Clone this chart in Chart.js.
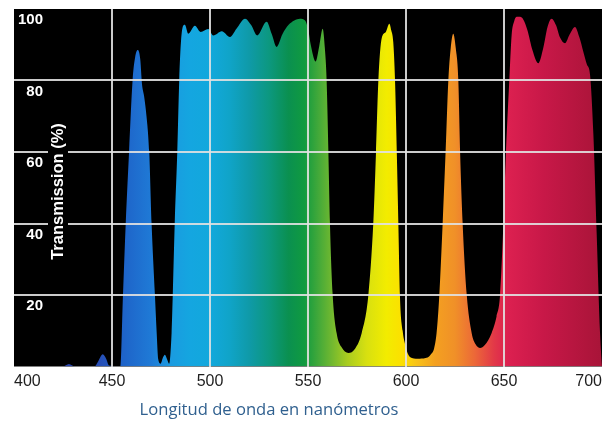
<!DOCTYPE html>
<html><head><meta charset="utf-8">
<style>html,body{margin:0;padding:0;background:#fff;}#wrap{width:608px;height:422px;}</style>
<script src="https://cdn.jsdelivr.net/npm/chart.js@4.4.1/dist/chart.umd.min.js"></script>
</head><body><div id="wrap"><canvas id="c" width="608" height="422"></canvas></div>
<script>
const wavelengths = [400,425,428,431,441,443,445.3,447,448.5,454.3,455.6,457,458.7,460.5,461.8,463.1,464.4,465.3,466.4,467.6,469,470.2,471.9,472.8,473.6,474.8,476,477,478,479.2,480.4,481,482,483.3,484.3,485.2,486.4,487.2,488.9,492.3,495.2,499.1,501.7,506,510.2,513.5,517.9,521,524.1,528.9,531.5,534,537,540,543,545.9,548.5,550.2,551.4,553.9,555.7,557.5,558.6,559.5,560.4,561.2,562.6,564.6,567,570.6,574,577.4,580.8,583.3,584.7,585.9,587.6,589.6,591.5,592.5,593.5,594.4,595.3,596.1,596.9,598.3,599.7,601,603,607,611,612.8,614.3,615.6,617,618.7,620.2,621.6,622.8,624.1,625.4,626.7,627.6,628.9,631,633.5,635.5,637.8,640.2,643.7,646.2,648,649.7,651,652.7,653.9,655.2,656.5,658.2,659.9,662,664.5,667.5,670,672.2,674.3,676.5,678.6,681.1,683.6,686.2,688.5,690.5,692.3,693.9,695.6,697.3,699,700];
const transmission = [0,0,0.7,0,0,1.5,3.4,2.2,0.3,0,20,40,60,80,86.5,88.5,86,79,75.5,70,60,40,20,9.4,2,0.8,2.5,3.3,2.2,0.8,9.4,20,40,60,80,91,95.4,95.6,93.1,95.3,93.6,94.4,92.6,93.8,92.2,94.5,97.3,95.5,92.6,96.4,93,89.4,93,95.5,96.8,97.3,96.8,94,90,85.3,89.5,94.5,89,80,60,40,20,9.4,5.5,3.8,5,9.4,20,40,60,80,91.8,93.5,95.9,94,90.8,80,60,40,20,10,6,3.5,2.4,2.2,2.5,3.5,5,9.4,20,40,60,80,89,93.1,89,80,60,40,20,9.4,6.2,5.2,6,9.4,14,20,40,60,80,92.7,96.6,97.8,97.8,97,94,88.5,84.8,89,95,97.3,95.5,92,90.4,93,95,92,88,84.5,81.6,65,37,9.4,0];
const xTicks = [400,450,500,550,600,650,700];
const yTicks = [20,40,60,80,100];
const colorWavelengths = [400,440,455,470,480,490,500,510,520,530,540,548,555,562,570,580,590,598,605,615,625,635,645,652,670,700];
const colorValues = ['#2a3fa8','#2a48b0','#1e62c8','#1f7ad6','#1a9be0','#14a6e0','#12a8dc','#10a4c8','#0f9aa8','#0c9880','#0a9050','#109a40','#40a83a','#70b830','#a8cc20','#d8e010','#f2ec00','#fce000','#f8c418','#f4a020','#f09028','#ec6838','#e23848','#dc2050','#c81848','#a81438'];
const xTitle = 'Longitud de onda en nanómetros';
const yTitle = 'Transmission (%)';

const bgPlugin = {id:'bg', beforeDraw(chart){const {ctx, chartArea:a}=chart; ctx.save(); ctx.fillStyle='#000'; ctx.fillRect(a.left,a.top,a.width,a.height); ctx.restore();}};
const textPlugin = {id:'txt', afterDraw(chart){
  const {ctx, chartArea:a}=chart;
  ctx.save();
  ctx.fillStyle='#000'; ctx.fillRect(a.left+34, 118, 20, 147);
  ctx.translate(a.left+44, 191.5); ctx.rotate(-Math.PI/2);
  ctx.fillStyle='#fff'; ctx.font='bold 16.5px Arial, "Liberation Sans", sans-serif';
  ctx.textAlign='center'; ctx.textBaseline='middle'; ctx.fillText(yTitle,0,0);
  ctx.restore();
  ctx.save();
  ctx.fillStyle='#30608f'; ctx.font='16.6px "Open Sans", sans-serif';
  ctx.textAlign='center'; ctx.textBaseline='middle'; ctx.fillText(xTitle, a.left+255, chart.height-12);
  ctx.restore();
}};

function gridColor(edgeA, edgeB){ return (c)=> (c.tick && (c.tick.value===edgeA || c.tick.value===edgeB)) ? 'rgba(0,0,0,0)' : 'rgba(225,225,225,0.9)'; }

new Chart(document.getElementById('c'), {
  type:'line',
  data:{datasets:[{
    data: wavelengths.map((w,i)=>({x:w,y:transmission[i]})),
    fill:'origin', borderWidth:0, borderColor:'rgba(0,0,0,0)', pointRadius:0,
    cubicInterpolationMode:'monotone',
    backgroundColor:(c)=>{const ch=c.chart; if(!ch.chartArea) return 'rgba(0,0,0,0)'; const xs=ch.scales.x;
      const g=ch.ctx.createLinearGradient(xs.getPixelForValue(400),0,xs.getPixelForValue(700),0);
      colorWavelengths.forEach((w,i)=>g.addColorStop((w-400)/300,colorValues[i])); return g;}
  }]},
  options:{
    responsive:false, animation:false,
    layout:{padding:{left:14,right:6,top:9,bottom:26.3}},
    plugins:{legend:{display:false},tooltip:{enabled:false}},
    scales:{
      x:{type:'linear',min:400,max:700,
        afterBuildTicks:(s)=>{s.ticks=xTicks.map(v=>({value:v}));},
        afterFit:(s)=>{s.paddingLeft=0;s.paddingRight=0;},
        ticks:{font:{size:16,family:'Arial, "Liberation Sans", sans-serif'},color:'#1e1e1e',align:'inner',padding:5,maxRotation:0,autoSkip:false},
        grid:{color:gridColor(400,700),lineWidth:2,drawTicks:false,z:1},
        border:{display:false}},
      y:{min:0,max:100,
        afterBuildTicks:(s)=>{s.ticks=[0].concat(yTicks).map(v=>({value:v}));},
        afterFit:(s)=>{s.width=0;s.paddingTop=0;s.paddingBottom=0;},
        ticks:{mirror:true,crossAlign:'far',labelOffset:11,padding:4,z:2,color:'#fff',
          font:{size:15,weight:'bold',family:'Arial, "Liberation Sans", sans-serif'},
          callback:(v)=> yTicks.includes(v)? String(v):''},
        grid:{color:gridColor(0,100),lineWidth:2,drawTicks:false,z:1},
        border:{display:false}}
    }
  },
  plugins:[bgPlugin,textPlugin]
});
</script></body></html>
